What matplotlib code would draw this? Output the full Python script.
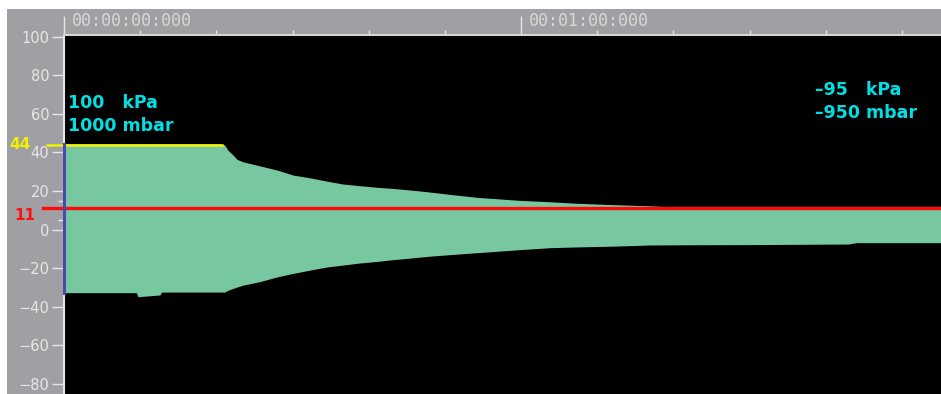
import matplotlib
matplotlib.use('Agg')
import matplotlib.pyplot as plt
from matplotlib.patches import Rectangle
from matplotlib.transforms import ScaledTranslation

# envelope of the pressure trace (time in s, values in scale units)
time_s = [0, 9.5, 9.7, 12.6, 12.8, 20.5, 21.1, 21.5, 22.2, 22.7, 23.5, 25.7, 28.0, 30.1,
          32.3, 34.5, 36.6, 38.9, 41.1, 43.2, 45.4, 47.7, 50.7, 54.2, 59.9, 63.8, 67.4,
          72.1, 76.9, 80.9, 90, 103, 104, 115.1]
upper = [44.5, 44.5, 44.5, 44.5, 44.5, 44.5, 43.8, 41.2, 38.6, 36.4, 35.1, 33.0, 30.8, 28.2,
         26.8, 25.1, 23.6, 22.7, 21.9, 21.3, 20.5, 19.6, 18.2, 16.7, 15.1, 14.4, 13.6,
         12.9, 12.3, 11.6, 11.4, 11.3, 11.3, 11.3]
lower = [-32.7, -32.7, -34.8, -33.9, -32.4, -32.4, -32.4, -31.5, -30.5, -29.8, -28.8, -27.0,
         -24.5, -22.7, -21.0, -19.4, -18.4, -17.3, -16.5, -15.6, -14.8, -13.9, -13.0, -12.0,
         -10.4, -9.4, -9.0, -8.6, -8.0, -7.9, -7.8, -7.5, -6.8, -6.8]

y_ticks = [100, 80, 60, 40, 20, 0, -20, -40, -60, -80]
y_minor = [5, 15]
time_major = [0, 60]
time_minor = [10, 20, 30, 40, 50, 70, 80, 90, 100, 110]
time_labels = ['00:00:00:000', '00:01:00:000']

upper_limit = 44
upper_limit_end = 20.7
lower_limit = 11

left_note = '100   kPa\n1000 mbar'
right_note = '\u201395   kPa\n\u2013950 mbar'

gray = '#a0a0a4'
light = '#e6e6e6'
fill_color = '#77c8a0'
cyan = '#00e0e4'

fig = plt.figure(figsize=(9.41, 3.94), dpi=100, facecolor='white')
fig.patches.append(Rectangle((7 / 941, 0), 1 - 7 / 941, 385 / 394, transform=fig.transFigure,
                             facecolor=gray, edgecolor='none', zorder=-10))
ax = fig.add_axes([64 / 941, 0, 877 / 941, 359 / 394])
ax.set_facecolor('black')

ax.fill_between(time_s, lower, upper, color=fill_color, linewidth=0, zorder=2)
ax.plot([time_s[0], time_s[0]], [lower[0], upper[0]], color='#4848b0', lw=2.2, zorder=5,
        clip_on=False)

ax.set_xlim(0, 115.14)
ax.set_ylim(-85.2, 100.8)

# limit lines with their labels in the left margin
ax.axhline(upper_limit, xmin=-17 / 877, xmax=upper_limit_end / 115.14, color='#f0f000',
           lw=1.8, clip_on=False, zorder=4)
ax.axhline(lower_limit, xmin=-21 / 877, xmax=1, color='#ff0a0a', lw=2.4, clip_on=False, zorder=4)
ax.text(-0.05, upper_limit, str(upper_limit), transform=ax.get_yaxis_transform(), color='#f0f000',
        fontsize=11, fontweight='bold', ha='center', va='center')
ax.text(-0.045, lower_limit, str(lower_limit), transform=ax.get_yaxis_transform(), color='#ff1010',
        fontsize=11, fontweight='bold', ha='center', va='top')

# y scale
ax.set_yticks(y_ticks)
ax.set_yticks(y_minor, minor=True)
ax.tick_params(axis='y', which='major', direction='out', length=8.5, width=1, color=light,
               labelcolor=light, labelsize=10.5, pad=2)
ax.tick_params(axis='y', which='minor', direction='out', length=4, width=1, color=light)

# time ruler on top
ax.xaxis.tick_top()
ax.set_xticks(time_major)
ax.set_xticks(time_minor, minor=True)
ax.tick_params(axis='x', which='major', direction='out', length=13.5, width=1, color=light,
               labeltop=False, labelbottom=False)
ax.tick_params(axis='x', which='minor', direction='out', length=3.8, width=1, color=light)
offset = ScaledTranslation(6 / 72, 10 / 72, fig.dpi_scale_trans)
for t, lab in zip(time_major, time_labels):
    ax.text(t, 1, lab, transform=ax.get_xaxis_transform() + offset, color='#d8d8d8',
            family='DejaVu Sans Mono', fontsize=12, ha='left', va='center')

for side in ['right', 'bottom']:
    ax.spines[side].set_visible(False)
ax.spines['left'].set_color(light)
ax.spines['left'].set_linewidth(1.5)
ax.spines['top'].set_color('#d4d4d4')
ax.spines['top'].set_linewidth(1.5)

ax.text(4 / 877, 0.779, left_note, transform=ax.transAxes, color=cyan, fontsize=12.5,
        fontweight='bold', ha='left', va='center', linespacing=1.4)
ax.text(751 / 877, 0.815, right_note, transform=ax.transAxes, color=cyan, fontsize=12.5,
        fontweight='bold', ha='left', va='center', linespacing=1.4)

plt.savefig('out.png', dpi=100, facecolor='white')
